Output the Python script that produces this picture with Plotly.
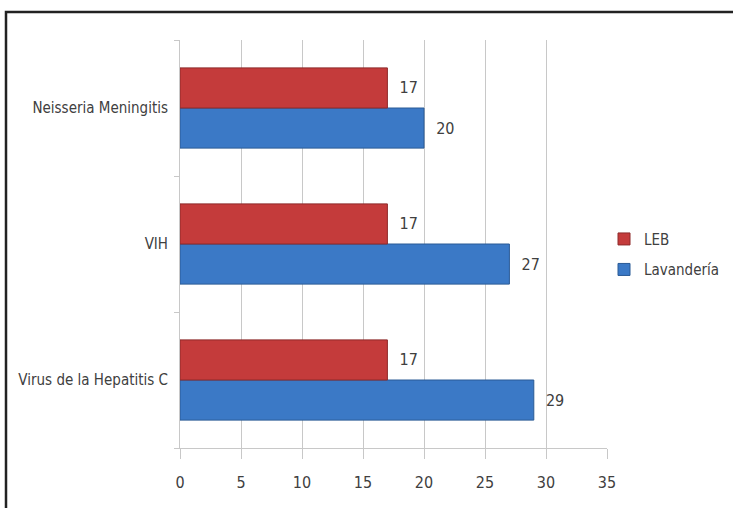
import plotly.graph_objects as go

categories = ["Virus de la Hepatitis C", "VIH", "Neisseria Meningitis"]
leb = [17, 17, 17]
lavanderia = [29, 27, 20]
x_ticks = [0, 5, 10, 15, 20, 25, 30, 35]

FONT = "Liberation Sans Narrow, DejaVu Sans Condensed, Arial Narrow, sans-serif"

fig = go.Figure()
fig.add_trace(go.Bar(
    y=categories, x=lavanderia, orientation="h", name="Lavandería",
    legendgroup="b", legendrank=2,
    marker=dict(color="#3B79C6", line=dict(color="#2A5A95", width=1)),
    text=lavanderia, texttemplate="  %{x}", textposition="outside",
    textfont=dict(family=FONT, size=16, color="#404040"),
    cliponaxis=False,
))
fig.add_trace(go.Bar(
    y=categories, x=leb, orientation="h", name="LEB",
    legendgroup="a", legendrank=1,
    marker=dict(color="#C43B3B", line=dict(color="#8E2A2A", width=1)),
    text=leb, texttemplate="  %{x}", textposition="outside",
    textfont=dict(family=FONT, size=16, color="#404040"),
    cliponaxis=False,
))

fig.update_layout(
    width=733, height=508,
    margin=dict(l=180, r=126, t=40, b=60, autoexpand=False),
    barmode="group", bargap=0.41, bargroupgap=0,
    plot_bgcolor="white", paper_bgcolor="white",
    font=dict(family=FONT, size=15, color="#404040"),
    showlegend=True,
    legend=dict(x=0.993, y=0.475, xanchor="left", yanchor="middle",
                bgcolor="rgba(0,0,0,0)",
                traceorder="grouped", font=dict(family=FONT, size=15, color="#404040"),
                itemwidth=30, tracegroupgap=8),
    xaxis=dict(range=[0, 35], tickvals=x_ticks, showgrid=True, gridcolor="#C8C8C8",
               gridwidth=1, zeroline=False, showline=True, linecolor="#C8C8C8",
               ticks="outside", ticklen=10, tickcolor="#C8C8C8",
               ticklabelstandoff=10,
               tickfont=dict(family=FONT, size=16, color="#404040")),
    yaxis=dict(categoryorder="array", categoryarray=categories, range=[-0.5, 2.5],
               showgrid=False, zeroline=False, showline=True, linecolor="#C8C8C8",
               ticks="outside", tickson="boundaries", ticklen=5, tickcolor="#C8C8C8",
               ticklabelstandoff=8,
               tickfont=dict(family=FONT, size=15, color="#404040")),
    shapes=[dict(type="rect", xref="paper", yref="paper",
                 x0=(6 - 180) / 427, x1=(740 - 180) / 427,
                 y0=(448 - 512) / 408, y1=(448 - 12) / 408,
                 line=dict(color="#222222", width=2.5))],
)

fig.write_html("out.html", config={"displayModeBar": False},
               post_script="document.body.style.margin='0';")
